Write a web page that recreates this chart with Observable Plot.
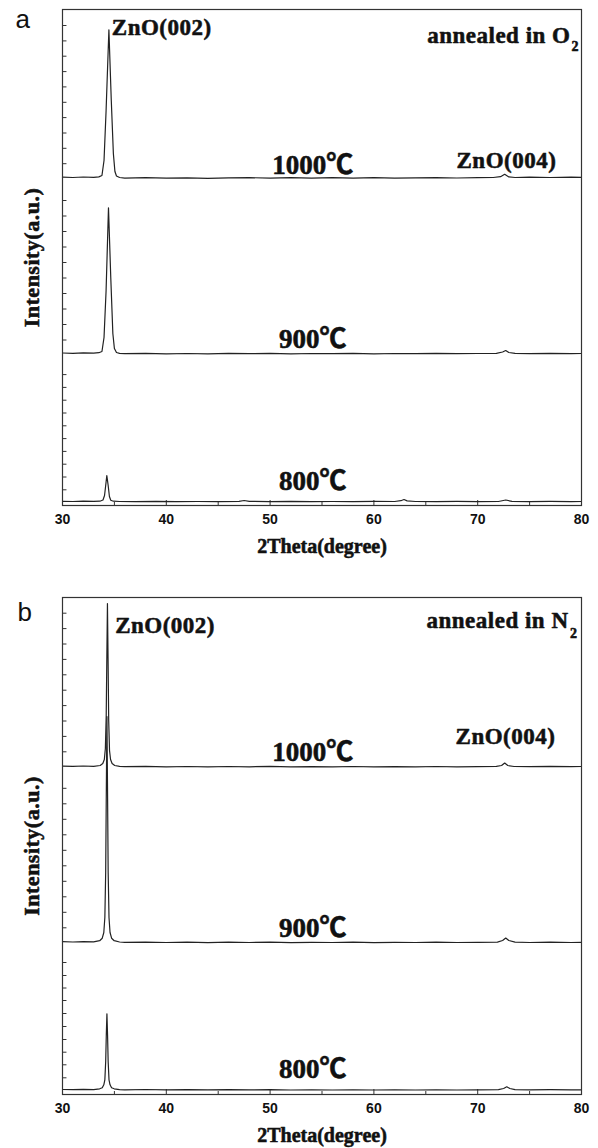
<!DOCTYPE html>
<html>
<head>
<meta charset="utf-8">
<script src="https://cdn.jsdelivr.net/npm/d3@7"></script>
<script src="https://cdn.jsdelivr.net/npm/@observablehq/plot@0.6"></script>
<style>
  html, body { margin: 0; padding: 0; background: #fff; }
  #chart svg { display: block; }
  #chart svg text { font-weight: 700; }
  #chart svg text.plain { font-weight: 400; stroke: none; }
</style>
</head>
<body>
<div id="chart"></div>
<script>
// ---------- data ----------
const xTicks = [30, 40, 50, 60, 70, 80];
const xMinor = [35, 45, 55, 65, 75];
const temps = ["1000℃", "900℃", "800℃"];
const peakLabels = ["ZnO(002)", "ZnO(004)"];
const xLabel = "2Theta(degree)";
const yLabel = "Intensity(a.u.)";

// panel a: annealed in O2 — [2theta, intensity a.u.]
const aO2_1000 = [[30,328.3],[31,328.0],[32,328.5],[33,328.1],[33.5,328.6],[33.8,330],[34.0,345],[34.2,395],[34.47,475.7],[34.7,405],[34.9,352],[35.05,334],[35.2,329.5],[35.5,328],[36,327.4],[38,327.8],[40,327.3],[42,327.7],[44,327.2],[46,327.6],[48,327.9],[50,327.3],[52,327.8],[54,327.4],[56,327.9],[58,327.4],[60,327.8],[62,327.3],[64,327.7],[66,327.9],[68,327.5],[70,327.8],[71.5,328.0],[72.2,328.8],[72.6,331.2],[73.0,328.6],[73.6,328.0],[75,328.3],[77,328.0],[79,328.4],[80,328.1]];
const aO2_900 = [[30,152.5],[31,152.2],[32,152.6],[33,152.3],[33.5,152.8],[33.8,154],[34.0,168],[34.2,215],[34.43,297.7],[34.65,228],[34.85,172],[35.0,157],[35.2,153],[35.5,152.2],[36,151.8],[38,152.1],[40,151.7],[42,152.0],[44,151.6],[46,152.1],[48,151.8],[50,152.2],[52,151.7],[54,152.0],[56,151.8],[58,152.1],[60,151.7],[62,152.0],[64,151.8],[66,152.2],[68,151.9],[70,152.0],[71.8,152.2],[72.4,153.5],[72.7,155],[73.0,153],[73.6,152.1],[75,151.9],[77,152.1],[79,151.8],[80,152.0]];
const aO2_800 = [[30,4.2],[31,4.0],[32,4.4],[33,4.1],[33.6,4.3],[33.9,5.5],[34.05,10],[34.15,19],[34.27,30],[34.4,20],[34.52,9],[34.65,5.2],[34.9,4.3],[35.5,4.0],[37,3.8],[39,4.1],[41,3.8],[43,4.0],[45,3.9],[47,4.2],[47.5,5.0],[48,4.1],[50,3.9],[52,4.1],[54,3.8],[56,4.0],[58,3.9],[60,4.1],[62,4.0],[62.6,4.8],[62.9,6.0],[63.2,4.6],[64,4.0],[66,3.9],[68,4.1],[70,3.9],[72,4.0],[72.7,5.5],[73.3,4.1],[75,3.9],[77,4.1],[79,3.9],[80,4.0]];

// panel b: annealed in N2
const bN2_1000 = [[30,328.4],[31,328.1],[32,328.5],[33,328.2],[33.63,329],[33.88,331],[34.03,335],[34.13,346],[34.21,378],[34.27,436],[34.33,491],[34.39,436],[34.45,374],[34.53,344],[34.63,335],[34.78,331],[35.03,329],[35.5,328.2],[36,327.8],[38,328.1],[40,327.7],[42,328.0],[44,327.6],[46,328.0],[48,327.7],[50,328.1],[52,327.6],[54,327.9],[56,327.7],[58,328.0],[60,327.6],[62,327.9],[64,327.7],[66,328.0],[68,327.7],[70,327.9],[71.8,328.1],[72.3,329],[72.6,331.5],[72.9,329],[73.5,328.0],[75,327.8],[77,328.1],[79,327.8],[80,328.0]];
const bN2_900 = [[30,152.8],[31,152.5],[32,152.9],[33,152.6],[33.58,153.8],[33.83,156.3],[33.98,162],[34.08,177],[34.16,222],[34.22,302],[34.28,378],[34.34,302],[34.4,222],[34.48,177],[34.58,162],[34.73,156.3],[34.98,153.8],[35.5,152.5],[36,152.1],[38,152.4],[40,152.0],[42,152.3],[44,151.9],[46,152.3],[48,152.0],[50,152.4],[52,151.9],[54,152.2],[56,152.0],[58,152.3],[60,151.9],[62,152.2],[64,152.0],[66,152.3],[68,152.0],[70,152.2],[71.9,152.4],[72.4,154],[72.7,156.5],[73.0,154],[73.6,152.3],[75,152.0],[77,152.3],[79,152.0],[80,152.2]];
const bN2_800 = [[30,5.0],[31,4.8],[32,5.1],[33,4.9],[33.58,5.7],[33.83,6.7],[33.98,9.7],[34.08,14.7],[34.16,32.7],[34.22,59.7],[34.28,80.7],[34.34,59.7],[34.4,32.7],[34.48,14.7],[34.58,9.7],[34.73,6.7],[34.98,5.7],[35.5,4.9],[36,4.7],[38,5.0],[40,4.6],[42,4.9],[44,4.6],[46,4.9],[48,4.6],[50,4.8],[52,4.5],[54,4.7],[56,4.5],[58,4.7],[60,4.5],[62,4.7],[64,4.5],[66,4.7],[68,4.5],[70,4.7],[72,4.8],[72.5,6],[72.8,7.7],[73.1,6],[73.6,4.8],[75,4.6],[77,4.8],[79,4.6],[80,4.7]];

// y tick values (three stacked layers per panel)
const aYTicks = [480,464.6,449.3,433.9,418.6,403.2,387.9,372.5,357.2,341.8, 305,289.5,274,258.5,243,227.5,212,196.5,181,165.5, 130.9,118.1,105.3,92.5,79.7,66.9,54.1,41.3,28.5,15.7];
const bYTicks = [481.3,465.9,450.5,435.1,419.7,404.3,388.9,373.5,358.1,342.7, 306.2,290.7,275.2,259.7,244.2,228.7,213.2,197.7,182.2,166.7, 132,119,106.5,94,81,68,55,42.3,29.7,16.7];

// ---------- drawing ----------
const SERIF = "'Liberation Serif', 'Times New Roman', 'Noto Sans CJK SC', serif";
const SANS = "'Liberation Sans', Arial, sans-serif";
const INK = "#111";

function panel(o) {
  const bold = {fontFamily: SERIF, fontWeight: "bold", fill: INK, stroke: INK, strokeWidth: 0.55};
  const svg = Plot.plot({
    width: 598, height: o.height,
    marginLeft: 62, marginRight: 17, marginTop: o.mt, marginBottom: o.mb,
    x: {domain: [30, 80], axis: null},
    y: {domain: [0, o.height - o.mt - o.mb], axis: null},
    style: {background: "#fff", fontFamily: SANS, overflow: "visible"},
    marks: [
      Plot.ruleY(o.yTicks, {y: d => d, x1: 30, x2: 30.43, stroke: "#333", strokeWidth: 1}),
      Plot.ruleX(xTicks, {x: d => d, y1: 0, y2: 5, stroke: "#333", strokeWidth: 1}),
      Plot.ruleX(xMinor, {x: d => d, y1: 0, y2: 3, stroke: "#333", strokeWidth: 1}),
      ...o.series.map(s => Plot.line(s, {x: d => d[0], y: d => d[1], stroke: "#222", strokeWidth: 1.2})),
      Plot.frame({stroke: "#333", strokeWidth: 1.2}),
      Plot.axisX(xTicks, {tickSize: 0, tickPadding: 9, fontSize: 14, fontWeight: "bold", fontFamily: SANS, fill: INK, stroke: INK, strokeWidth: 0.45, label: null, tickFormat: d => d}),
      Plot.text([xLabel], {text: d => d, frameAnchor: "bottom", dy: 47, lineAnchor: "bottom", fontSize: 20, ...bold}),
      Plot.text([yLabel], {text: d => d, frameAnchor: "left", rotate: -90, dx: -24, lineAnchor: "bottom", textAnchor: "middle", fontSize: 22, ...bold}),
      Plot.text([o.letter], {text: d => d, frameAnchor: "top-left", dx: o.letterDx, dy: o.letterDy, lineAnchor: "bottom", textAnchor: "start", fontSize: 26, fontFamily: SANS, fill: INK}),
      Plot.text([peakLabels[0]], {text: d => d, x: o.l002[0], y: o.l002[1], textAnchor: "start", lineAnchor: "bottom", fontSize: 23, ...bold}),
      Plot.text([peakLabels[1]], {text: d => d, x: o.l004[0], y: o.l004[1], textAnchor: "start", lineAnchor: "bottom", fontSize: 23, ...bold}),
      Plot.text([o.gas], {text: d => d, x: o.lgas[0], y: o.lgas[1], textAnchor: "end", lineAnchor: "bottom", fontSize: 23, ...bold}),
      Plot.text(["2"], {text: d => d, x: o.lsub[0], y: o.lsub[1], textAnchor: "start", lineAnchor: "bottom", fontSize: 14, ...bold}),
      Plot.text(temps, {text: d => d, x: 54.1, y: (d, i) => o.tempY[i], textAnchor: "middle", lineAnchor: "bottom", fontSize: 27, ...bold})
    ]
  });
  const s = d3.select(svg);
  s.selectAll("text").filter(function () {
    const t = this.textContent;
    return t === "ZnO(002)" || t === "ZnO(004)" || t.startsWith("annealed") || t === yLabel;
  }).attr("letter-spacing", "0.5px");
  s.selectAll("text").filter(function () { return this.textContent === o.letter; }).classed("plain", true);
  return svg;
}

const root = document.getElementById("chart");
root.appendChild(panel({
  height: 555, mt: 9, mb: 50, letter: "a", letterDx: -47, letterDy: 18,
  yTicks: aYTicks, series: [aO2_1000, aO2_900, aO2_800],
  gas: "annealed in O", lgas: [78.94, 463], lsub: [79.03, 455],
  l002: [34.75, 471], l004: [67.96, 338], tempY: [332, 158, 16]
}));
root.appendChild(panel({
  height: 593, mt: 42, mb: 54, letter: "b", letterDx: -45, letterDy: 23,
  yTicks: bYTicks, series: [bN2_1000, bN2_900, bN2_800],
  gas: "annealed in N", lgas: [78.75, 467], lsub: [78.9, 457],
  l002: [35.07, 462], l004: [67.87, 351], tempY: [334, 158, 17]
}));
</script>
</body>
</html>
